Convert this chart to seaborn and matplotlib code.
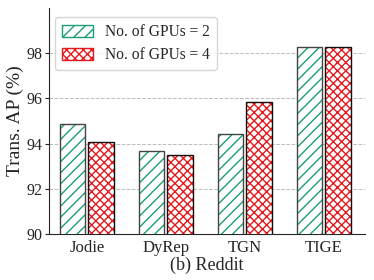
import pandas as pd
import matplotlib.pyplot as plt
import seaborn as sns
from matplotlib.patches import Patch


# Data
models = ["Jodie", "DyRep", "TGN", "TIGE"]
gpus2 = [94.86, 93.68, 94.44, 98.28]
gpus4 = [94.07, 93.48, 95.85, 98.29]
series = ["No. of GPUs = 2", "No. of GPUs = 4"]

df = pd.DataFrame({
    "model": models * 2,
    "ap": gpus2 + gpus4,
    "setting": [series[0]] * 4 + [series[1]] * 4,
})

sns.set_style("ticks")
plt.rcParams['font.family'] = ['Liberation Serif', 'DejaVu Serif']
plt.rcParams['hatch.linewidth'] = 1.0

colors = ["#1b9e77", "#e41a1c"]
hatches = ["///", "xxxx"]

fig = plt.figure(figsize=(3.74, 2.8), dpi=100)
ax = fig.add_axes([49/374, 1 - 234/280, 316/374, 226/280])

sns.barplot(data=df, x="model", y="ap", hue="setting", hue_order=series,
            palette=["white", "white"], width=0.72, gap=0.11,
            legend=False, ax=ax, zorder=3)

# hatch in series colour, then a dark outline on top
bars = list(ax.patches)
for i, bar in enumerate(bars):
    k = i // len(models)
    bar.set_hatch(hatches[k])
    bar.set_edgecolor(colors[k])
    bar.set_linewidth(0)
    outline = plt.Rectangle(bar.get_xy(), bar.get_width(), bar.get_height(),
                            fill=False, edgecolor=["#444444", "#111111"][k],
                            linewidth=1.0, zorder=4)
    ax.add_patch(outline)

ax.set_ylim(90, 100)
ax.set_xlim(-0.48, 3.52)
ax.set_yticks([90, 92, 94, 96, 98])
ax.yaxis.grid(True, linestyle="--", color="#bbbbbb", linewidth=0.7, zorder=0)
ax.set_axisbelow(True)
sns.despine(ax=ax)
ax.tick_params(axis="y", labelsize=11.5, length=3, pad=2)
ax.tick_params(axis="x", labelsize=12, length=0, pad=4)
ax.set_ylabel("Trans. AP (%)", fontsize=14)
ax.yaxis.set_label_coords(-0.08, 0.5)
ax.set_xlabel("(b) Reddit", fontsize=13, labelpad=1)

handles = [Patch(facecolor="white", edgecolor=colors[k], hatch=hatches[k])
           for k in range(2)]
ax.legend(handles, series, loc="upper left", bbox_to_anchor=(6/316, 1 - 9/226),
          borderaxespad=0, fontsize=11.2, frameon=True, handlelength=2.0,
          handleheight=0.8, borderpad=0.45, labelspacing=0.45,
          handletextpad=0.75)

fig.savefig("out.png", dpi=100)
